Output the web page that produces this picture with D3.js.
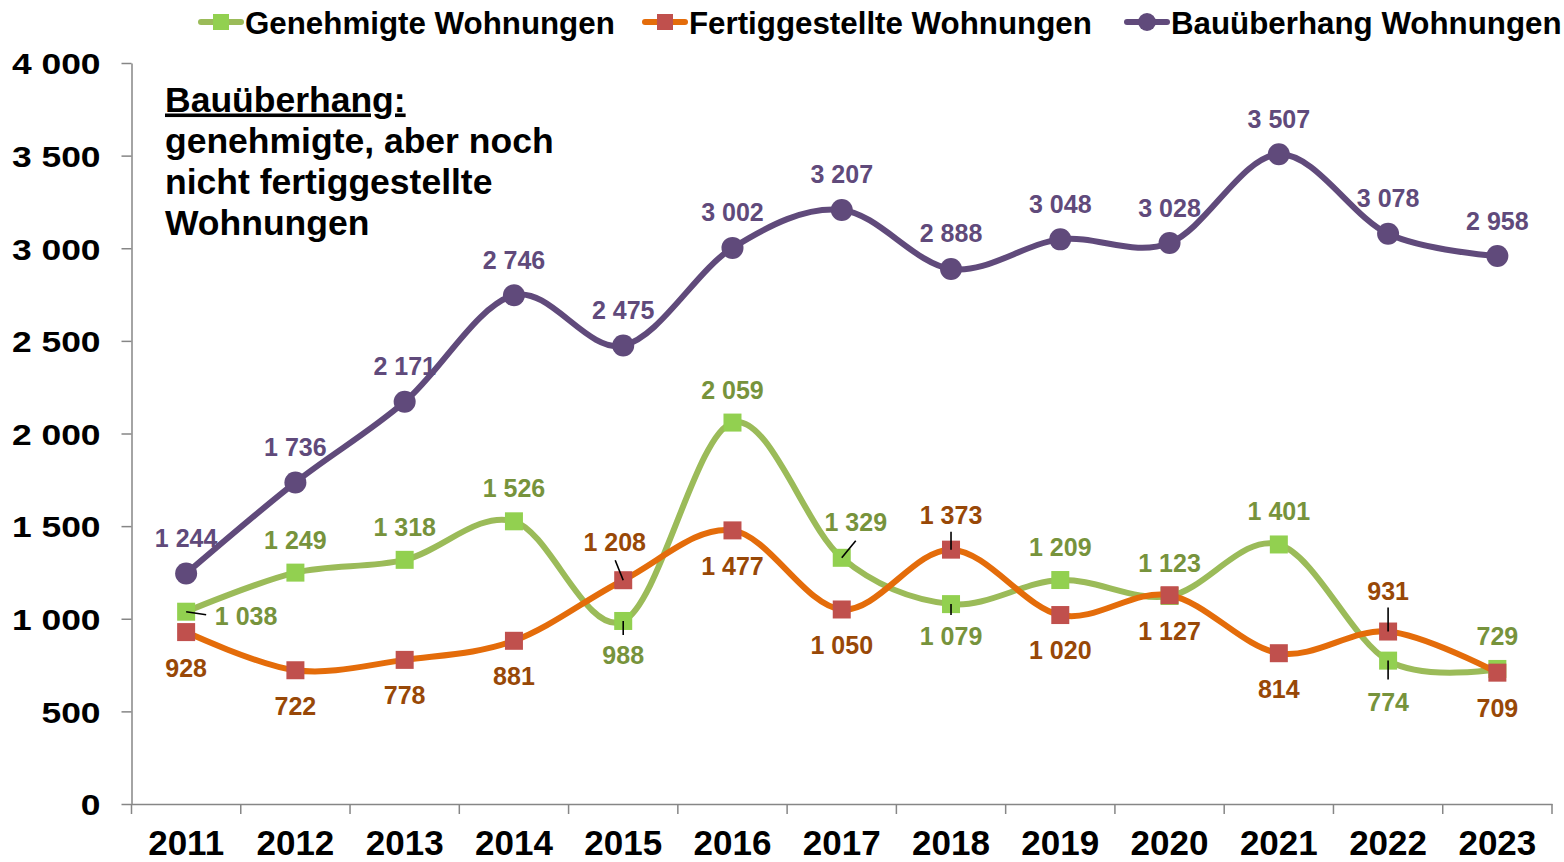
<!DOCTYPE html>
<html>
<head>
<meta charset="utf-8">
<script src="https://cdn.jsdelivr.net/npm/d3@7"></script>
<style>
  html, body { margin: 0; padding: 0; background: #fff; }
  svg { display: block; font-family: "Liberation Sans", Arial, sans-serif; font-weight: bold; }
</style>
</head>
<body>
<div id="chart"></div>
<script>
'use strict';

// chart data
var years = ["2011","2012","2013","2014","2015","2016","2017","2018","2019","2020","2021","2022","2023"];
var genehmigt = [1038, 1249, 1318, 1526, 988, 2059, 1329, 1079, 1209, 1123, 1401, 774, 729];
var fertig    = [928, 722, 778, 881, 1208, 1477, 1050, 1373, 1020, 1127, 814, 931, 709];
var ueberhang = [1244, 1736, 2171, 2746, 2475, 3002, 3207, 2888, 3048, 3028, 3507, 3078, 2958];
var yTicks = [0, 500, 1000, 1500, 2000, 2500, 3000, 3500, 4000];
var seriesNames = ["Genehmigte Wohnungen", "Fertiggestellte Wohnungen", "Bauüberhang Wohnungen"];
var noteLines = ["Bauüberhang:", "genehmigte, aber noch", "nicht fertiggestellte", "Wohnungen"];

// label placement (pixel offsets of label centre from point), leader lines
var genLabelOff  = [[60,4],[0,-33],[0,-33],[0,-33],[0,34],[0,-33],[14,-36],[0,32],[0,-33],[0,-33],[0,-33],[0,41],[0,-33]];
var fertLabelOff = [[0,36],[0,36],[0,35],[0,35],[-8.5,-38.5],[0,36],[0,36],[0,-35],[0,35],[0,36],[0,36],[0,-40.5],[0,35]];
var ueberLabelOff = years.map(function() { return [0,-35.5]; });
var genLeaders  = {0:[20,3], 4:[0,14], 6:[14,-17], 7:[0,11], 11:[0,19]};
var fertLeaders = {4:[-8,-20], 7:[0,-18], 11:[0,-24]};

var W = 1564, H = 862;
var svg = d3.select("#chart").append("svg")
    .attr("width", W)
    .attr("height", H);

var x = d3.scaleBand().domain(years).range([131.5, 1552]).padding(0);
var y = d3.scaleLinear().domain([0, 4000]).range([804, 63]);
var cx = function(i) { return x(years[i]) + x.bandwidth() / 2; };

var locale = d3.formatLocale({ decimal: ",", thousands: " ", grouping: [3], currency: ["", " €"] });
var fmt = locale.format(",d");

var axisColor = "#868686";

// y axis
var yAxis = svg.append("g")
    .attr("transform", "translate(131.5,0)")
    .call(d3.axisLeft(y).tickValues(yTicks).tickFormat(fmt).tickSizeInner(10).tickSizeOuter(0).tickPadding(21));
yAxis.select(".domain").attr("stroke", axisColor).attr("stroke-width", 1.5);
yAxis.selectAll(".tick line").attr("stroke", axisColor).attr("stroke-width", 1.5);
yAxis.selectAll(".tick text")
    .attr("fill", "#000")
    .attr("font-size", 30)
    .attr("font-family", "'Liberation Sans', Arial, sans-serif")
    .attr("font-weight", "bold")
    .attr("x", -31 / 1.18)
    .attr("dy", "0.36em")
    .attr("transform", "scale(1.18,1)");

// x axis
var xAxis = svg.append("g")
    .attr("transform", "translate(0,804)")
    .call(d3.axisBottom(x).tickSizeInner(0).tickSizeOuter(0).tickPadding(26));
xAxis.select(".domain").attr("stroke", axisColor).attr("stroke-width", 1.5);
xAxis.selectAll(".tick text")
    .attr("fill", "#000")
    .attr("font-size", 35)
    .attr("font-family", "'Liberation Sans', Arial, sans-serif")
    .attr("font-weight", "bold")
    .attr("dy", "0.71em");
var edges = d3.range(years.length + 1).map(function(i) { return x.range()[0] + i * x.step(); });
xAxis.selectAll(".edge").data(edges).enter().append("line")
    .attr("class", "edge")
    .attr("x1", function(d) { return d; }).attr("x2", function(d) { return d; })
    .attr("y1", 0).attr("y2", 10)
    .attr("stroke", axisColor).attr("stroke-width", 1.5);

// series
var series = [
    { values: genehmigt, line: "#9BBB59", marker: "#92D050", label: "#77933C", shape: "square", size: 18, off: genLabelOff, leaders: genLeaders },
    { values: fertig,    line: "#E46C0A", marker: "#C0504D", label: "#984807", shape: "square", size: 18, off: fertLabelOff, leaders: fertLeaders },
    { values: ueberhang, line: "#604A7B", marker: "#604A7B", label: "#604A7B", shape: "circle", size: 11, off: ueberLabelOff, leaders: {} }
];

var line = d3.line()
    .x(function(d, i) { return cx(i); })
    .y(function(d) { return y(d); })
    .curve(d3.curveCatmullRom.alpha(0));

series.forEach(function(s) {
    var g = svg.append("g");
    g.append("path")
        .attr("d", line(s.values))
        .attr("fill", "none")
        .attr("stroke", s.line)
        .attr("stroke-width", 6)
        .attr("stroke-linejoin", "round")
        .attr("stroke-linecap", "round");
    if (s.shape === "square") {
        g.selectAll("rect").data(s.values).enter().append("rect")
            .attr("x", function(d, i) { return cx(i) - s.size / 2; })
            .attr("y", function(d) { return y(d) - s.size / 2; })
            .attr("width", s.size).attr("height", s.size)
            .attr("fill", s.marker);
    } else {
        g.selectAll("circle").data(s.values).enter().append("circle")
            .attr("cx", function(d, i) { return cx(i); })
            .attr("cy", function(d) { return y(d); })
            .attr("r", s.size)
            .attr("fill", s.marker);
    }
});

// leader lines and data labels
series.forEach(function(s) {
    var g = svg.append("g");
    Object.keys(s.leaders).forEach(function(k) {
        var i = +k, d = s.leaders[k];
        g.append("line")
            .attr("x1", cx(i)).attr("y1", y(s.values[i]))
            .attr("x2", cx(i) + d[0]).attr("y2", y(s.values[i]) + d[1])
            .attr("stroke", "#000").attr("stroke-width", 1.6);
    });
    g.selectAll("text").data(s.values).enter().append("text")
        .attr("x", function(d, i) { return cx(i) + s.off[i][0]; })
        .attr("y", function(d, i) { return y(d) + s.off[i][1]; })
        .attr("dy", "0.36em")
        .attr("text-anchor", "middle")
        .attr("font-size", 25)
        .attr("fill", s.label)
        .text(function(d) { return fmt(d); });
});

// legend
var legendX = [245, 689, 1171];
var legend = svg.append("g");
series.forEach(function(s, k) {
    var tx = legendX[k], ly = 22;
    legend.append("line")
        .attr("x1", tx - 44).attr("x2", tx - 4)
        .attr("y1", ly).attr("y2", ly)
        .attr("stroke", s.line).attr("stroke-width", 6).attr("stroke-linecap", "round");
    if (s.shape === "square") {
        legend.append("rect")
            .attr("x", tx - 24 - 8).attr("y", ly - 8)
            .attr("width", 16).attr("height", 16)
            .attr("fill", s.marker);
    } else {
        legend.append("circle")
            .attr("cx", tx - 24).attr("cy", ly).attr("r", 9)
            .attr("fill", s.marker);
    }
    legend.append("text")
        .attr("x", tx).attr("y", 34)
        .attr("font-size", 31.3)
        .attr("fill", "#000")
        .text(seriesNames[k]);
});

// annotation
var note = svg.append("g");
note.selectAll("text").data(noteLines).enter().append("text")
    .attr("x", 165)
    .attr("y", function(d, i) { return 111.5 + i * 41; })
    .attr("font-size", 35.5)
    .attr("fill", "#000")
    .style("text-decoration", function(d, i) { return i === 0 ? "underline" : "none"; })
    .text(function(d) { return d; });
</script>
</body>
</html>
